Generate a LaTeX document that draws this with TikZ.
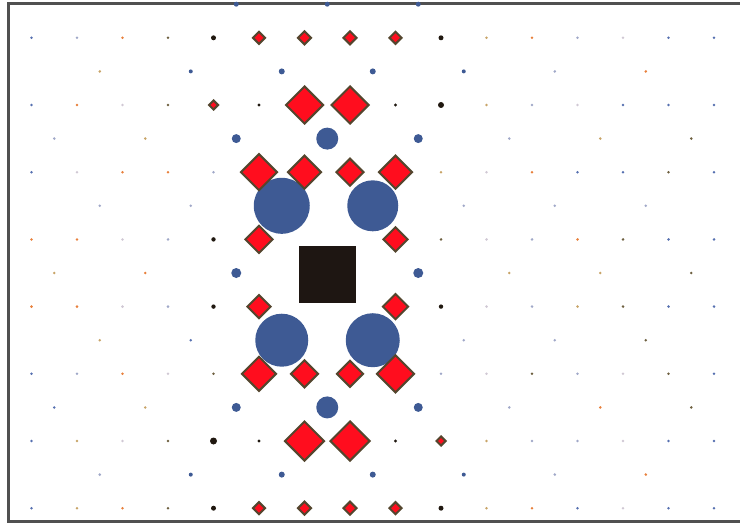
\documentclass[tikz,border=0pt]{standalone}
\usepackage{tikz}
\usetikzlibrary{shapes.geometric}

\definecolor{cBl}{HTML}{5670B0}
\definecolor{cGy}{HTML}{A0A8C8}
\definecolor{cOr}{HTML}{E8803C}
\definecolor{cTn}{HTML}{C8A468}
\definecolor{cOl}{HTML}{6E6040}
\definecolor{cLt}{HTML}{D0C8D4}
\definecolor{cBk}{HTML}{201810}
\definecolor{rodblue}{HTML}{3E5A94}
\definecolor{rodred}{HTML}{FF0D1E}
\definecolor{rodedge}{HTML}{54462E}
\definecolor{corebrown}{HTML}{1E1612}
\definecolor{framegray}{HTML}{505050}

\begin{document}
\begin{tikzpicture}[x=45.5pt,y=-33.6pt,
  dia/.style={diamond, aspect=1, fill=rodred, draw=rodedge, line width=2pt, inner sep=0pt}]
  \useasboundingbox (-0.6923,-8.125) rectangle (15.5714,7.5);

  % frame
  \draw[framegray, line width=2.2pt] (15.7,-8.021) -- (-0.5055,-8.021) -- (-0.5055,7.396) -- (15.7,7.396);

  % far field dots, row by row
  \foreach \k/\c in {0/cBl,1/cGy,2/cOr,3/cOl,10/cTn,11/cOr,12/cGy,13/cLt,14/cBl,15/cBl} \fill[\c] (\k,-7) circle (1.4pt);
  \foreach \k/\c in {1.5/cTn,11.5/cGy,13.5/cOr} \fill[\c] (\k,-6) circle (1.4pt);
  \foreach \k/\c in {0/cBl,1/cOr,2/cLt,3/cOl,10/cTn,11/cGy,12/cLt,13/cBl,14/cBl,15/cBl} \fill[\c] (\k,-5) circle (1.4pt);
  \foreach \k/\c in {0.5/cGy,2.5/cTn,10.5/cGy,12.5/cTn,14.5/cOl} \fill[\c] (\k,-4) circle (1.4pt);
  \foreach \k/\c in {0/cBl,1/cLt,2/cOr,3/cOr,4/cGy,9/cTn,10/cLt,11/cOr,12/cBl,13/cBl,14/cOl,15/cBl} \fill[\c] (\k,-3) circle (1.4pt);
  \foreach \k/\c in {1.5/cGy,3.5/cGy,9.5/cGy,11.5/cGy,13.5/cGy} \fill[\c] (\k,-2) circle (1.4pt);
  \foreach \k/\c in {0/cOr,1/cOr,2/cLt,3/cGy,9/cOl,10/cLt,11/cGy,12/cOr,13/cOl,14/cBl,15/cBl} \fill[\c] (\k,-1) circle (1.4pt);
  \foreach \k/\c in {0.5/cTn,2.5/cOr,10.5/cTn,12.5/cTn,14.5/cOl} \fill[\c] (\k,0) circle (1.4pt);
  \foreach \k/\c in {0/cOr,1/cOr,2/cLt,3/cGy,10/cLt,11/cGy,12/cTn,13/cOl,14/cBl,15/cBl} \fill[\c] (\k,1) circle (1.4pt);
  \foreach \k/\c in {1.5/cTn,3.5/cBl,9.5/cGy,11.5/cGy,13.5/cOl} \fill[\c] (\k,2) circle (1.4pt);
  \foreach \k/\c in {0/cBl,1/cGy,2/cOr,3/cLt,4/cOl,9/cGy,10/cLt,11/cOl,12/cGy,13/cLt,14/cOl,15/cBl} \fill[\c] (\k,3) circle (1.4pt);
  \foreach \k/\c in {0.5/cBl,2.5/cTn,10.5/cGy,12.5/cOr,14.5/cOl} \fill[\c] (\k,4) circle (1.4pt);
  \foreach \k/\c in {0/cBl,1/cTn,2/cLt,3/cOl,10/cTn,11/cGy,12/cGy,13/cLt,14/cBl,15/cBl} \fill[\c] (\k,5) circle (1.4pt);
  \foreach \k/\c in {1.5/cGy,11.5/cGy,13.5/cOr} \fill[\c] (\k,6) circle (1.4pt);
  \foreach \k/\c in {0/cBl,1/cTn,2/cOr,3/cOl,10/cTn,11/cOr,12/cBl,13/cLt,14/cBl,15/cBl} \fill[\c] (\k,7) circle (1.4pt);

  % dark dots near the defect
  \foreach \k/\j/\r in {4/-7/2.5,9/-7/2.5,5/-5/1.6,8/-5/1.6,9/-5/3,4/-1/2.2,4/1/2.2,9/1/2.2,4/5/3.5,5/5/1.6,8/5/1.6,4/7/2.5,9/7/2.5}
    \fill[cBk] (\k,\j) circle (\r pt);

  % blue rods
  \foreach \k/\j/\r in {4.5/-8/2.5,6.5/-8/2.5,8.5/-8/2.5,
                        3.5/-6/2,5.5/-6/3,7.5/-6/3,9.5/-6/2,
                        4.5/-4/4.5,6.5/-4/11,8.5/-4/4.5,
                        5.5/-2/28,7.5/-2/25.5,
                        4.5/0/5,8.5/0/5,
                        5.5/2/26.5,7.5/2/27,
                        4.5/4/4.5,6.5/4/11,8.5/4/4.5,
                        3.5/6/2,5.5/6/3,7.5/6/3,9.5/6/2}
    \fill[rodblue] (\k,\j) circle (\r pt);

  % red rods
  \foreach \k/\j/\h in {5/-7/6.5,6/-7/7,7/-7/7,8/-7/6.5,
                        4/-5/5,6/-5/19,7/-5/19,
                        5/-3/18.5,6/-3/17,7/-3/14,8/-3/17,
                        5/-1/14,8/-1/12.5,
                        5/1/12,8/1/13,
                        5/3/17.5,6/3/14,7/3/13.5,8/3/19,
                        6/5/20,7/5/20,9/5/5,
                        5/7/6.5,6/7/7,7/7/7,8/7/6.5}
    \node[dia, minimum size=2*\h pt] (dia\j-\k) at (\k,\j) {};

  % defect core
  \fill[corebrown] (6.516,0.03) ++(-28.5pt,-28.5pt) rectangle ++(57pt,57pt);
\end{tikzpicture}
\end{document}
